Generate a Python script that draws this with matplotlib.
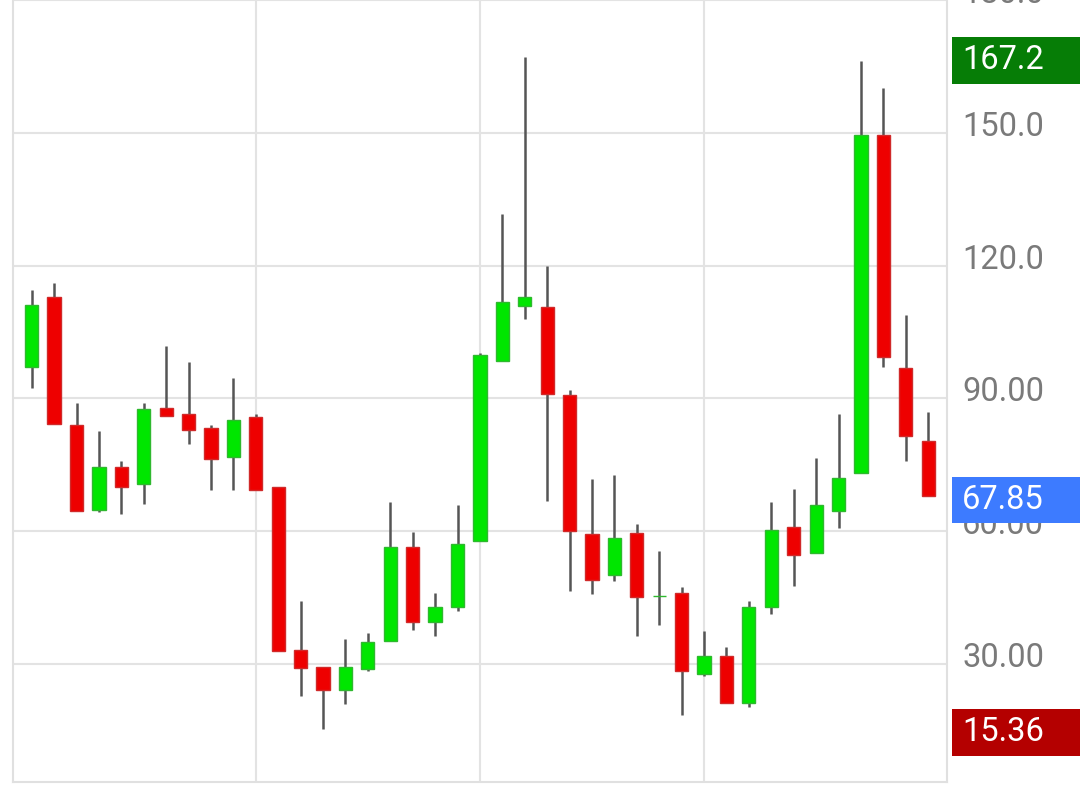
import matplotlib.pyplot as plt
import matplotlib.transforms as mtransforms
from matplotlib.patches import Rectangle

plt.rcParams['font.family'] = ['Roboto', 'DejaVu Sans']

# candle values
opens = [97.1, 113.0, 84.0, 64.9, 74.6, 70.7, 87.8, 86.4, 83.3, 76.7,
         85.7, 70.1, 33.2, 29.4, 24.2, 28.9, 35.3, 56.5, 39.6, 42.8,
         57.8, 98.4, 110.9, 110.6, 90.8, 59.3, 50.1, 59.6, 45.4, 46.1,
         27.8, 31.9, 21.2, 42.8, 61.0, 55.1, 64.5, 73.1, 149.6, 96.9,
         80.3]
highs = [114.4, 116.1, 88.9, 82.7, 75.9, 88.9, 101.9, 98.3, 84.0, 94.5,
         86.4, 70.1, 44.3, 29.4, 35.7, 36.9, 66.6, 59.8, 46.1, 66.0,
         100.3, 131.6, 167.2, 120.0, 91.9, 71.7, 72.8, 61.7, 55.5, 47.4,
         37.5, 33.8, 44.3, 66.6, 69.6, 76.5, 86.4, 166.3, 160.1, 108.8,
         87.0]
lows = [92.3, 84.2, 64.5, 64.4, 63.8, 66.2, 86.0, 79.8, 69.2, 69.2,
        69.4, 32.9, 22.8, 15.36, 20.9, 28.4, 35.3, 37.7, 36.4, 42.0,
        57.8, 98.4, 107.9, 66.8, 46.4, 45.8, 48.8, 36.4, 38.9, 18.4,
        27.2, 21.2, 20.4, 41.4, 47.7, 55.1, 60.8, 73.1, 97.1, 75.8,
        67.85]
closes = [111.2, 84.2, 64.5, 74.6, 69.9, 87.6, 86.0, 82.9, 76.2, 85.1,
          69.4, 32.9, 29.1, 24.2, 29.3, 34.9, 56.5, 39.6, 42.9, 57.2,
          99.8, 111.8, 113.0, 91.1, 60.0, 48.9, 58.5, 45.2, 45.4, 28.4,
          31.9, 21.2, 42.9, 60.3, 54.6, 65.9, 72.0, 149.6, 99.4, 81.4,
          67.85]
y_ticks = [30, 60, 90, 120, 150, 180]
y_tick_labels = ['30.00', '60.00', '90.00', '120.0', '150.0', '180.0']
x_grid = [10, 20, 30]

up_fill, up_edge = '#00e600', '#2fb82f'
dn_fill, dn_edge = '#ee0000', '#d02a2a'

fig = plt.figure(figsize=(10.8, 7.9), dpi=100)
ax = fig.add_axes([13 / 1080, 8.5 / 790, 934 / 1080, 781.5 / 790])

xs = list(range(len(opens)))
fills = [up_fill if c >= o else dn_fill for o, c in zip(opens, closes)]
edges = [up_edge if c >= o else dn_edge for o, c in zip(opens, closes)]
bottoms = [min(o, c) for o, c in zip(opens, closes)]
heights = [max(abs(c - o), 0.05) for o, c in zip(opens, closes)]

ax.vlines(xs, lows, highs, color='#555555', lw=1.8, zorder=2)
ax.bar(xs, heights, bottom=bottoms, width=0.59, color=fills,
       edgecolor=edges, linewidth=1.0, zorder=3)

ax.set_xlim(-0.834, 40.84)
ax.set_ylim(3.46, 179.23)
ax.set_yticks(y_ticks)
ax.set_xticks(x_grid)
ax.grid(True, color='#e3e3e3', lw=1.5, zorder=0)
ax.tick_params(length=0, labelleft=False, labelbottom=False)
for s in ['left', 'bottom', 'right']:
    ax.spines[s].set_color('#e0e0e0')
    ax.spines[s].set_linewidth(1.5)
ax.spines['top'].set_visible(False)

# price labels on the right
trans = mtransforms.blended_transform_factory(fig.transFigure, ax.transData)
lab_trans = mtransforms.offset_copy(trans, fig=fig, x=0, y=4.3, units='points')
for v, t in zip(y_ticks, y_tick_labels):
    ax.text(962 / 1080, v, t, transform=lab_trans, ha='left', va='center',
            fontsize=23.5, color='#7a7a7a', clip_on=False)

# highlighted values: high, last close, low
marks = [(max(highs), '%.1f' % max(highs), '#067d06'),
         (closes[-1], '%.2f' % closes[-1], '#3d7bff'),
         (min(lows), '%.2f' % min(lows), '#b40000')]
box_h = 47 / 4.446
for v, t, col in marks:
    yc = v - 0.8
    ax.add_patch(Rectangle((952 / 1080, yc - box_h / 2), 0.2, box_h,
                           transform=trans, facecolor=col, edgecolor='none',
                           clip_on=False, zorder=5))
    ax.text(962 / 1080, yc, t, transform=trans, ha='left', va='center',
            fontsize=23.5, color='white', clip_on=False, zorder=6)

fig.savefig('out.png', dpi=100)
